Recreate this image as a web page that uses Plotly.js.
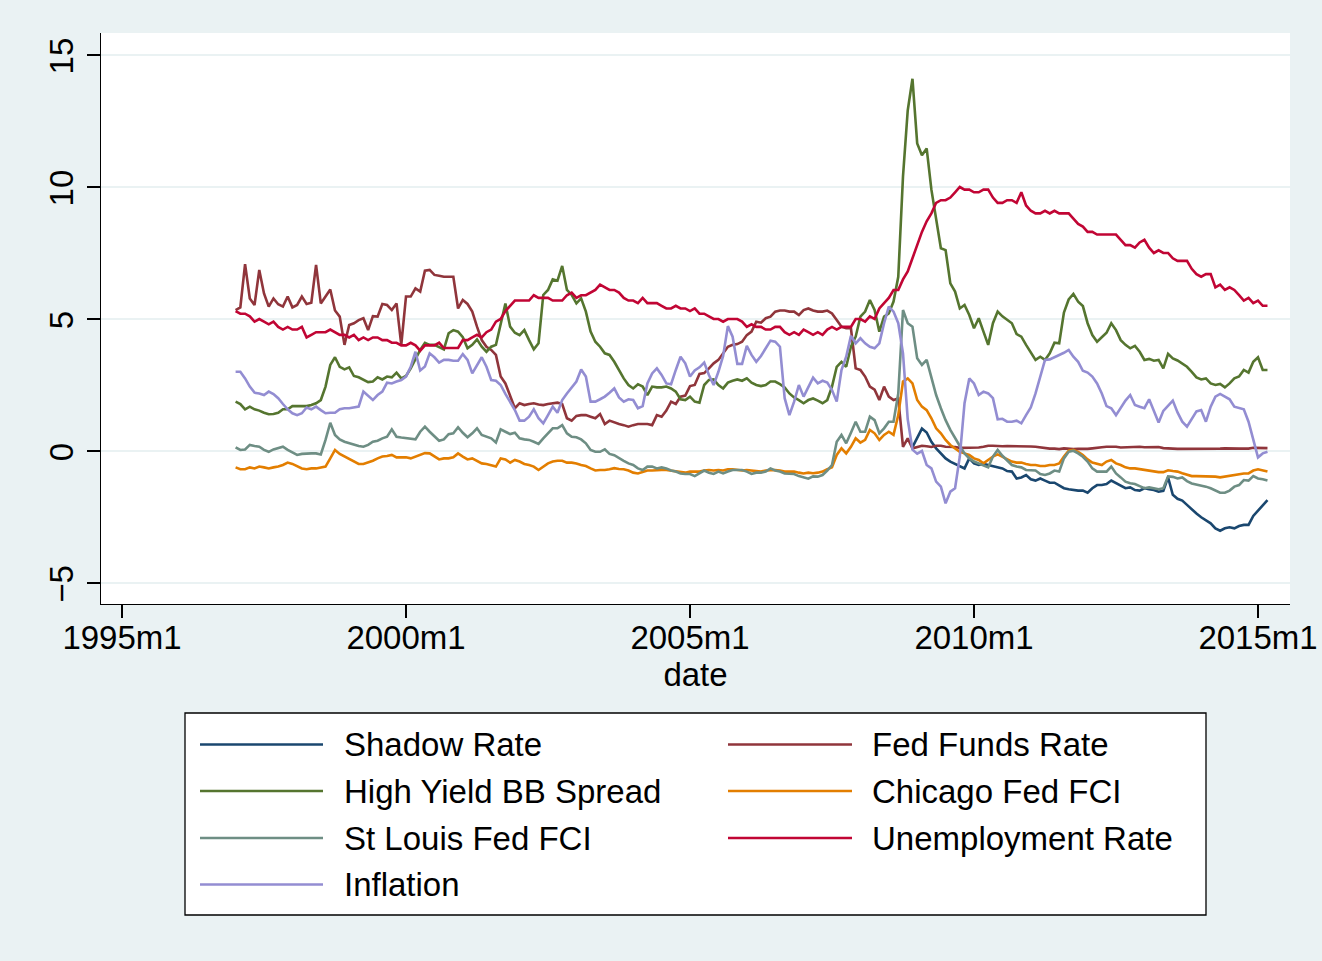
<!DOCTYPE html>
<html>
<head>
<meta charset="utf-8">
<script src="https://cdn.plot.ly/plotly-3.0.1.min.js"></script>
<style>
  html, body { margin: 0; padding: 0; background: #eaf2f3; }
  #chart { width: 1322px; height: 961px; }
</style>
</head>
<body>
<div id="chart"></div>
<script>
// ---- Data: monthly observations, 1997m1 .. 2015m3 ----
const firstMonth = [1997, 1];
const shadowFirstMonth = [2008, 12];

const xTickMonths = [[1995, 1], [2000, 1], [2005, 1], [2010, 1], [2015, 1]];
const xTickLabels = ['1995m1', '2000m1', '2005m1', '2010m1', '2015m1'];
const yTickValues = [-5, 0, 5, 10, 15];

const shadowRate = [
  0.15,                                                                        // 2008m12
  0.50, 0.85, 0.70, 0.35, 0.10, -0.09, -0.28, -0.40, -0.49, -0.57, -0.66, -0.28, // 2009
  -0.47, -0.53, -0.49, -0.53, -0.57, -0.62, -0.66, -0.76, -0.78, -1.04, -1.00, -0.91, // 2010
  -1.07, -1.12, -1.04, -1.12, -1.20, -1.20, -1.29, -1.41, -1.45, -1.48, -1.50, -1.50, // 2011
  -1.58, -1.41, -1.29, -1.29, -1.25, -1.12, -1.22, -1.33, -1.41, -1.38, -1.48, -1.50, // 2012
  -1.41, -1.45, -1.48, -1.54, -1.51, -1.00, -1.66, -1.81, -1.88, -2.04, -2.22, -2.37, // 2013
  -2.51, -2.64, -2.74, -2.93, -3.02, -2.93, -2.89, -2.93, -2.84, -2.80, -2.80, -2.46, // 2014
  -2.26, -2.05, -1.86                                                          // 2015
];

const fedFundsRate = [
  5.34, 5.44, 7.08, 5.78, 5.53, 6.86, 5.97, 5.47, 5.78, 5.56, 5.47, 5.85, // 1997
  5.44, 5.53, 5.85, 5.57, 5.62, 7.05, 5.59, 5.85, 6.12, 5.32, 5.09, 4.02, // 1998
  4.77, 4.84, 4.96, 5.03, 4.58, 5.11, 5.09, 5.57, 5.53, 5.34, 5.59, 4.02, // 1999
  5.85, 5.85, 6.16, 6.04, 6.83, 6.86, 6.67, 6.64, 6.60, 6.60, 6.60, 5.40, // 2000
  5.72, 5.57, 5.28, 4.71, 4.20, 3.95, 3.83, 3.64, 2.82, 2.56, 2.06, 1.62, // 2001
  1.81, 1.74, 1.78, 1.81, 1.76, 1.74, 1.78, 1.81, 1.83, 1.78, 1.24, 1.15, // 2002
  1.33, 1.36, 1.36, 1.30, 1.24, 1.40, 1.02, 1.15, 1.07, 1.02, 0.98, 0.92, // 2003
  0.98, 1.02, 1.02, 1.02, 0.98, 1.36, 1.30, 1.53, 1.87, 1.78, 2.06, 2.10, // 2004
  2.46, 2.50, 2.92, 2.95, 3.13, 3.32, 3.45, 3.70, 3.95, 4.02, 4.05, 4.14, // 2005
  4.39, 4.52, 4.90, 4.86, 5.03, 5.09, 5.28, 5.32, 5.32, 5.28, 5.28, 5.15, // 2006
  5.34, 5.40, 5.32, 5.28, 5.28, 5.32, 5.21, 4.96, 4.71, 4.65, 4.65, 3.13, // 2007
  3.07, 2.82, 2.44, 2.32, 1.93, 2.44, 2.06, 1.93, 1.99, 0.16, 0.48, 0.10, // 2008
  0.16, 0.20, 0.18, 0.15, 0.20, 0.20, 0.16, 0.16, 0.15, 0.12, 0.12, 0.12, // 2009
  0.11, 0.13, 0.16, 0.20, 0.20, 0.18, 0.18, 0.19, 0.19, 0.19, 0.19, 0.18, // 2010
  0.17, 0.16, 0.14, 0.10, 0.09, 0.09, 0.07, 0.10, 0.08, 0.07, 0.08, 0.07, // 2011
  0.08, 0.10, 0.13, 0.14, 0.16, 0.16, 0.16, 0.13, 0.14, 0.16, 0.16, 0.16, // 2012
  0.14, 0.15, 0.14, 0.15, 0.11, 0.09, 0.09, 0.08, 0.08, 0.09, 0.08, 0.09, // 2013
  0.07, 0.07, 0.08, 0.09, 0.09, 0.10, 0.09, 0.09, 0.09, 0.09, 0.09, 0.12, // 2014
  0.11, 0.11, 0.11                                                        // 2015
];

const highYieldBBSpread = [
  1.87, 1.78, 1.58, 1.68, 1.58, 1.53, 1.45, 1.39, 1.40, 1.45, 1.58, 1.58, // 1997
  1.70, 1.70, 1.70, 1.70, 1.74, 1.81, 1.93, 2.44, 3.26, 3.55, 3.19, 3.09, // 1998
  3.17, 2.84, 2.79, 2.71, 2.61, 2.63, 2.79, 2.71, 2.82, 2.79, 2.97, 2.75, // 1999
  2.84, 3.13, 3.51, 3.83, 4.10, 4.02, 4.02, 3.95, 3.85, 4.46, 4.58, 4.52, // 2000
  4.31, 3.89, 4.02, 4.23, 3.95, 3.76, 3.95, 4.02, 4.77, 5.59, 4.71, 4.48, // 2001
  4.39, 4.58, 4.20, 3.85, 4.08, 5.91, 6.10, 6.50, 6.45, 7.01, 6.10, 5.91, // 2002
  5.59, 5.78, 5.28, 4.52, 4.14, 3.95, 3.70, 3.64, 3.38, 3.07, 2.75, 2.50, // 2003
  2.37, 2.53, 2.44, 2.12, 2.44, 2.41, 2.41, 2.44, 2.37, 2.25, 1.96, 1.93, // 2004
  2.06, 1.87, 1.83, 2.50, 2.69, 2.71, 2.50, 2.37, 2.59, 2.66, 2.71, 2.66, // 2005
  2.75, 2.59, 2.50, 2.46, 2.50, 2.63, 2.63, 2.53, 2.41, 2.18, 2.03, 1.93, // 2006
  1.81, 1.93, 1.99, 1.91, 1.81, 1.93, 2.44, 3.19, 3.38, 3.19, 3.95, 4.33, // 2007
  5.09, 5.28, 5.72, 5.34, 4.52, 5.09, 5.21, 5.66, 6.60, 10.40, 12.90, 14.10, // 2008
  11.65, 11.20, 11.46, 9.90, 8.80, 7.68, 7.61, 6.35, 6.04, 5.40, 5.53, 5.15, // 2009
  4.65, 5.03, 4.52, 4.02, 4.84, 5.28, 5.10, 4.96, 4.84, 4.43, 4.33, 4.02, // 2010
  3.76, 3.45, 3.57, 3.45, 3.70, 4.10, 4.08, 5.24, 5.74, 5.95, 5.66, 5.49, // 2011
  4.84, 4.39, 4.14, 4.33, 4.48, 4.84, 4.58, 4.20, 4.02, 3.89, 3.98, 3.76, // 2012
  3.45, 3.49, 3.42, 3.45, 3.13, 3.68, 3.51, 3.43, 3.31, 3.19, 3.00, 2.79, // 2013
  2.71, 2.75, 2.56, 2.50, 2.54, 2.41, 2.56, 2.75, 2.82, 3.07, 2.97, 3.38, // 2014
  3.55, 3.07, 3.07                                                        // 2015
];

const chicagoFedFCI = [
  -0.62, -0.69, -0.69, -0.62, -0.66, -0.59, -0.62, -0.66, -0.62, -0.59, -0.53, -0.44, // 1997
  -0.49, -0.59, -0.66, -0.69, -0.66, -0.66, -0.62, -0.59, -0.28, 0.04, -0.11, -0.21,  // 1998
  -0.32, -0.40, -0.49, -0.49, -0.44, -0.37, -0.28, -0.21, -0.19, -0.15, -0.24, -0.24, // 1999
  -0.24, -0.28, -0.21, -0.13, -0.08, -0.09, -0.19, -0.32, -0.28, -0.28, -0.24, -0.09, // 2000
  -0.21, -0.32, -0.28, -0.37, -0.47, -0.49, -0.53, -0.59, -0.28, -0.32, -0.44, -0.34, // 2001
  -0.40, -0.49, -0.53, -0.59, -0.72, -0.59, -0.47, -0.40, -0.37, -0.37, -0.44, -0.44, // 2002
  -0.47, -0.53, -0.57, -0.66, -0.74, -0.72, -0.72, -0.69, -0.65, -0.68, -0.69, -0.74, // 2003
  -0.82, -0.85, -0.78, -0.74, -0.74, -0.72, -0.72, -0.72, -0.74, -0.78, -0.78, -0.82, // 2004
  -0.78, -0.78, -0.78, -0.74, -0.72, -0.74, -0.72, -0.74, -0.69, -0.69, -0.72, -0.74, // 2005
  -0.72, -0.74, -0.78, -0.78, -0.74, -0.72, -0.72, -0.74, -0.78, -0.78, -0.78, -0.82, // 2006
  -0.85, -0.82, -0.84, -0.82, -0.78, -0.69, -0.62, -0.15, 0.10, -0.09, 0.16, 0.48,    // 2007
  0.32, 0.42, 0.80, 0.67, 0.42, 0.61, 0.73, 0.61, 1.36, 2.63, 2.75, 2.56,             // 2008
  1.93, 1.68, 1.55, 1.24, 0.86, 0.67, 0.42, 0.23, 0.10, -0.03, -0.09, -0.15,          // 2009
  -0.28, -0.34, -0.47, -0.34, -0.21, -0.13, -0.21, -0.32, -0.40, -0.44, -0.44, -0.49, // 2010
  -0.53, -0.53, -0.57, -0.57, -0.53, -0.53, -0.47, -0.21, 0.01, 0.04, -0.03, -0.15,   // 2011
  -0.32, -0.44, -0.49, -0.53, -0.40, -0.34, -0.47, -0.53, -0.62, -0.66, -0.66, -0.69, // 2012
  -0.72, -0.74, -0.78, -0.80, -0.80, -0.73, -0.76, -0.78, -0.84, -0.91, -0.95, -0.95, // 2013
  -0.95, -0.95, -0.95, -0.97, -1.00, -0.97, -0.95, -0.91, -0.87, -0.85, -0.85, -0.74, // 2014
  -0.69, -0.74, -0.78                                                                 // 2015
];

const stLouisFedFCI = [
  0.14, 0.04, 0.06, 0.23, 0.19, 0.16, 0.04, -0.03, 0.06, 0.10, 0.16, 0.04,           // 1997
  -0.06, -0.15, -0.11, -0.09, -0.09, -0.09, -0.13, 0.42, 1.07, 0.61, 0.44, 0.35,     // 1998
  0.29, 0.23, 0.19, 0.16, 0.23, 0.35, 0.39, 0.48, 0.54, 0.82, 0.54, 0.51,            // 1999
  0.48, 0.47, 0.44, 0.73, 0.92, 0.73, 0.54, 0.39, 0.44, 0.64, 0.67, 0.90,            // 2000
  0.69, 0.52, 0.67, 0.86, 0.61, 0.54, 0.48, 0.32, 0.82, 0.73, 0.64, 0.69,            // 2001
  0.48, 0.44, 0.42, 0.35, 0.27, 0.48, 0.69, 0.86, 0.86, 0.98, 0.67, 0.54,            // 2002
  0.52, 0.44, 0.29, 0.04, -0.03, -0.03, 0.06, -0.11, -0.16, -0.28, -0.37, -0.47,     // 2003
  -0.53, -0.66, -0.72, -0.59, -0.59, -0.66, -0.62, -0.66, -0.74, -0.78, -0.85, -0.87, // 2004
  -0.87, -0.95, -0.85, -0.74, -0.82, -0.87, -0.78, -0.85, -0.78, -0.72, -0.72, -0.72, // 2005
  -0.78, -0.87, -0.82, -0.82, -0.78, -0.66, -0.74, -0.78, -0.85, -0.87, -0.87, -0.95, // 2006
  -1.00, -1.05, -0.96, -0.97, -0.91, -0.74, -0.53, 0.35, 0.61, 0.29, 0.69, 1.11,     // 2007
  0.73, 0.73, 1.30, 1.17, 0.67, 0.86, 1.11, 1.11, 2.18, 5.34, 4.84, 4.71,            // 2008
  3.51, 3.26, 3.45, 2.82, 2.12, 1.62, 1.17, 0.80, 0.48, 0.19, -0.09, -0.28,          // 2009
  -0.40, -0.47, -0.57, -0.62, -0.21, 0.04, -0.18, -0.35, -0.53, -0.59, -0.62, -0.72, // 2010
  -0.74, -0.74, -0.87, -0.91, -0.85, -0.74, -0.78, -0.28, -0.03, 0.01, -0.09, -0.22, // 2011
  -0.40, -0.66, -0.78, -0.78, -0.78, -0.59, -0.85, -1.00, -1.16, -1.22, -1.25, -1.33, // 2012
  -1.41, -1.38, -1.41, -1.45, -1.41, -0.96, -0.98, -1.04, -1.00, -1.14, -1.23, -1.27, // 2013
  -1.29, -1.35, -1.41, -1.48, -1.58, -1.58, -1.50, -1.35, -1.29, -1.10, -1.12, -0.95, // 2014
  -1.04, -1.07, -1.12                                                                 // 2015
];

const unemploymentRate = [
  5.3, 5.2, 5.2, 5.1, 4.9, 5.0, 4.9, 4.8, 4.9, 4.7, 4.6, 4.7,  // 1997
  4.6, 4.6, 4.7, 4.3, 4.4, 4.5, 4.5, 4.5, 4.6, 4.5, 4.4, 4.4,  // 1998
  4.3, 4.4, 4.2, 4.3, 4.2, 4.3, 4.3, 4.2, 4.2, 4.1, 4.1, 4.0,  // 1999
  4.0, 4.1, 4.0, 3.8, 4.0, 4.0, 4.0, 4.1, 3.9, 3.9, 3.9, 3.9,  // 2000
  4.2, 4.2, 4.3, 4.4, 4.3, 4.5, 4.6, 4.9, 5.0, 5.3, 5.5, 5.7,  // 2001
  5.7, 5.7, 5.7, 5.9, 5.8, 5.8, 5.8, 5.7, 5.7, 5.7, 5.9, 6.0,  // 2002
  5.8, 5.9, 5.9, 6.0, 6.1, 6.3, 6.2, 6.1, 6.1, 6.0, 5.8, 5.7,  // 2003
  5.7, 5.6, 5.8, 5.6, 5.6, 5.6, 5.5, 5.4, 5.4, 5.5, 5.4, 5.4,  // 2004
  5.3, 5.4, 5.2, 5.2, 5.1, 5.0, 5.0, 4.9, 5.0, 5.0, 5.0, 4.9,  // 2005
  4.7, 4.8, 4.7, 4.7, 4.6, 4.6, 4.7, 4.7, 4.5, 4.4, 4.5, 4.4,  // 2006
  4.6, 4.5, 4.4, 4.5, 4.4, 4.6, 4.7, 4.6, 4.7, 4.7, 4.7, 5.0,  // 2007
  5.0, 4.9, 5.1, 5.0, 5.4, 5.6, 5.8, 6.1, 6.1, 6.5, 6.8, 7.3,  // 2008
  7.8, 8.3, 8.7, 9.0, 9.4, 9.5, 9.5, 9.6, 9.8, 10.0, 9.9, 9.9, // 2009
  9.8, 9.8, 9.9, 9.9, 9.6, 9.4, 9.4, 9.5, 9.5, 9.4, 9.8, 9.3,  // 2010
  9.1, 9.0, 9.0, 9.1, 9.0, 9.1, 9.0, 9.0, 9.0, 8.8, 8.6, 8.5,  // 2011
  8.3, 8.3, 8.2, 8.2, 8.2, 8.2, 8.2, 8.0, 7.8, 7.8, 7.7, 7.9,  // 2012
  8.0, 7.7, 7.5, 7.6, 7.5, 7.5, 7.3, 7.2, 7.2, 7.2, 6.9, 6.7,  // 2013
  6.6, 6.7, 6.7, 6.2, 6.3, 6.1, 6.2, 6.1, 5.9, 5.7, 5.8, 5.6,  // 2014
  5.7, 5.5, 5.5                                                // 2015
];

const inflation = [
  3.00, 3.00, 2.75, 2.44, 2.21, 2.18, 2.12, 2.25, 2.16, 2.00, 1.78, 1.58, // 1997
  1.43, 1.36, 1.43, 1.65, 1.58, 1.68, 1.55, 1.43, 1.45, 1.45, 1.58, 1.62, // 1998
  1.62, 1.65, 1.68, 2.25, 2.08, 1.93, 2.12, 2.25, 2.59, 2.56, 2.63, 2.69, // 1999
  2.82, 3.19, 3.76, 3.05, 3.20, 3.70, 3.55, 3.35, 3.45, 3.45, 3.42, 3.42, // 2000
  3.67, 3.45, 2.94, 3.26, 3.55, 3.19, 2.69, 2.66, 2.50, 2.16, 1.87, 1.55, // 2001
  1.15, 1.15, 1.30, 1.58, 1.24, 1.05, 1.36, 1.68, 1.45, 1.93, 2.18, 2.41, // 2002
  2.63, 3.09, 2.82, 1.87, 1.87, 1.96, 2.06, 2.21, 2.37, 2.03, 1.87, 1.96, // 2003
  1.93, 1.62, 1.70, 2.56, 2.94, 3.13, 2.88, 2.56, 2.53, 3.07, 3.57, 3.32, // 2004
  2.82, 3.05, 3.17, 3.35, 2.88, 2.50, 3.00, 3.60, 4.73, 4.33, 3.30, 3.30, // 2005
  3.98, 3.64, 3.38, 3.60, 3.89, 4.18, 4.14, 3.95, 2.00, 1.36, 1.87, 2.50, // 2006
  2.06, 2.44, 2.78, 2.56, 2.66, 2.59, 2.31, 1.87, 3.07, 3.57, 4.36, 4.08, // 2007
  4.27, 4.08, 3.95, 3.89, 4.08, 4.84, 5.47, 5.28, 4.84, 3.70, 1.20, 0.05, // 2008
  -0.10, 0.00, -0.53, -0.66, -1.16, -1.35, -1.98, -1.54, -1.41, -0.21, 1.81, 2.75, // 2009
  2.56, 2.12, 2.25, 2.18, 2.00, 1.20, 1.22, 1.11, 1.11, 1.15, 1.05, 1.36, // 2010
  1.65, 2.18, 2.82, 3.45, 3.47, 3.55, 3.64, 3.72, 3.83, 3.57, 3.38, 3.04, // 2011
  2.97, 2.82, 2.56, 2.18, 1.70, 1.62, 1.36, 1.65, 1.91, 2.12, 1.74, 1.68, // 2012
  1.62, 1.96, 1.55, 1.08, 1.52, 1.72, 1.91, 1.46, 1.11, 0.92, 1.23, 1.50, // 2013
  1.55, 1.11, 1.68, 2.06, 2.16, 2.06, 1.96, 1.68, 1.62, 1.58, 1.11, 0.42, // 2014
  -0.24, -0.09, -0.03                                                      // 2015
];

// ---- Monthly time axis (Stata %tm: months since 1960m1) ----
const tm = (y, m) => (y - 1960) * 12 + (m - 1);
const monthAxis = (start, n) => {
  const base = tm(start[0], start[1]);
  return Array.from({ length: n }, (_, k) => base + k);
};

const seriesDefs = [
  { name: 'Shadow Rate',          y: shadowRate,        start: shadowFirstMonth, color: '#1a476f' },
  { name: 'Fed Funds Rate',       y: fedFundsRate,      start: firstMonth,       color: '#90353b' },
  { name: 'High Yield BB Spread', y: highYieldBBSpread, start: firstMonth,       color: '#55752f' },
  { name: 'Chicago Fed FCI',      y: chicagoFedFCI,     start: firstMonth,       color: '#e37e00' },
  { name: 'St Louis Fed FCI',     y: stLouisFedFCI,     start: firstMonth,       color: '#6e8e84' },
  { name: 'Unemployment Rate',    y: unemploymentRate,  start: firstMonth,       color: '#c10534' },
  { name: 'Inflation',            y: inflation,         start: firstMonth,       color: '#938dd2' }
];

const LINE_W = 2.6;

const traces = seriesDefs.map(s => ({
  type: 'scatter',
  mode: 'lines',
  name: s.name,
  x: monthAxis(s.start, s.y.length),
  y: s.y,
  line: { color: s.color, width: LINE_W },
  hoverinfo: 'skip',
  showlegend: false
}));

// ---- Geometry (pixels) ----
const W = 1322, H = 961;
const M = { l: 101, r: 32, t: 33, b: 357 };
const pxPerMonth = 284 / 60;
const pxPerUnit = 26.4;
const tick1995 = 122, zeroY = 451;
const xRange = [tm(1995, 1) - (tick1995 - M.l) / pxPerMonth,
                tm(1995, 1) + (W - M.r - tick1995) / pxPerMonth];
const yRange = [-(H - M.b - zeroY) / pxPerUnit, (zeroY - M.t) / pxPerUnit];

const px2x = px => (px - M.l) / (W - M.l - M.r);
const py2y = py => (H - M.b - py) / (H - M.t - M.b);

const FONT = '"Liberation Sans", Arial, Helvetica, sans-serif';
const FS = 33;

// ---- Legend box (two columns, row-major order as in Stata) ----
const legendOrder = [0, 1, 2, 3, 4, 5, 6];
const legendCols = [{ line: [200, 323], text: 342 }, { line: [728, 852], text: 870 }];
const legendRows = [744.5, 791, 838, 884.5];

const shapes = [{
  type: 'rect', xref: 'paper', yref: 'paper',
  x0: px2x(185), x1: px2x(1206), y0: py2y(713), y1: py2y(915),
  fillcolor: '#ffffff', line: { color: '#000000', width: 1.3 }, layer: 'above'
}];
const annotations = [];
legendOrder.forEach((si, k) => {
  const col = legendCols[k % 2], row = legendRows[Math.floor(k / 2)];
  const s = seriesDefs[si];
  shapes.push({
    type: 'line', xref: 'paper', yref: 'paper',
    x0: px2x(col.line[0]), x1: px2x(col.line[1]), y0: py2y(row), y1: py2y(row),
    line: { color: s.color, width: LINE_W }, layer: 'above'
  });
  annotations.push({
    xref: 'paper', yref: 'paper', x: px2x(col.text), y: py2y(row),
    xanchor: 'left', yanchor: 'middle', showarrow: false,
    text: s.name, font: { family: FONT, size: FS, color: '#000000' }
  });
});

const layout = {
  width: W, height: H,
  margin: { l: M.l, r: M.r, t: M.t, b: M.b, pad: 0 },
  paper_bgcolor: '#eaf2f3',
  plot_bgcolor: '#ffffff',
  font: { family: FONT, size: FS, color: '#000000' },
  showlegend: false,
  xaxis: {
    range: xRange,
    tickmode: 'array',
    tickvals: xTickMonths.map(([y, m]) => tm(y, m)),
    ticktext: xTickLabels,
    ticks: 'outside', ticklen: 13, tickwidth: 1.4, tickcolor: '#000000',
    ticklabelstandoff: -9,
    showline: true, linecolor: '#000000', linewidth: 1.4,
    showgrid: false, zeroline: false,
    tickfont: { family: FONT, size: FS, color: '#000000' },
    title: { text: 'date', font: { family: FONT, size: FS, color: '#000000' }, standoff: 5 }
  },
  yaxis: {
    range: yRange,
    tickmode: 'array',
    tickvals: yTickValues,
    tickangle: -90,
    ticklabelshift: 6,
    ticks: 'outside', ticklen: 13, tickwidth: 1.4, tickcolor: '#000000',
    showline: true, linecolor: '#000000', linewidth: 1.4,
    showgrid: true, gridcolor: '#eaf2f3', gridwidth: 2.5,
    zeroline: false,
    tickfont: { family: FONT, size: FS, color: '#000000' }
  },
  shapes: shapes,
  annotations: annotations
};

Plotly.newPlot('chart', traces, layout, { displayModeBar: false, staticPlot: true });
</script>
</body>
</html>
